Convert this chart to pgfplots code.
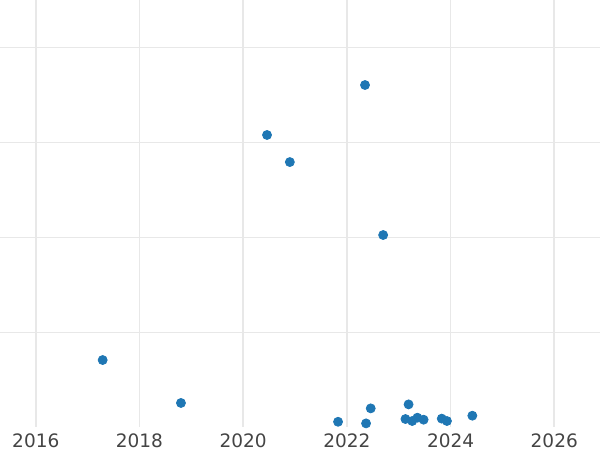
\documentclass[border=0pt]{standalone}
\usepackage{pgfplots}
\pgfplotsset{compat=1.18}
\usepackage{fontspec}
\setmainfont{DejaVu Sans}
\definecolor{pt}{HTML}{1F77B4}
\definecolor{gridc}{HTML}{E8E8E8}
\definecolor{tickc}{HTML}{444444}
\begin{document}
\begin{tikzpicture}
\begin{axis}[
  scale only axis,
  width=300pt, height=213.5pt,
  xmin=2015.310, xmax=2026.882,
  ymin=0, ymax=449.5,
  axis line style={draw=none},
  xtick={2016,2018,2020,2022,2024,2026},
  ytick={100,200,300,400},
  yticklabels={},
  xticklabel style={/pgf/number format/1000 sep=, font=\fontsize{9.25pt}{11pt}\selectfont, text=tickc, anchor=north, inner sep=0pt, yshift=-3.2pt},
  /pgf/number format/assume math mode=true,
  major tick length=0pt,
  xmajorgrids, ymajorgrids,
  x grid style={gridc, line width=0.85pt},
  y grid style={gridc, line width=0.5pt},
  clip=false,
]
\addplot[only marks, mark=*, mark size=2.25pt, color=pt, mark options={draw=pt, fill=pt}] coordinates {
(2017.29,70.5)
(2018.80,25.3)
(2020.46,307.4)
(2020.90,278.9)
(2022.35,360.0)
(2022.70,202.1)
(2021.83,5.5)
(2022.37,3.8)
(2022.46,19.6)
(2023.19,23.8)
(2023.13,8.4)
(2023.26,6.3)
(2023.36,9.8)
(2023.48,7.7)
(2023.83,8.8)
(2023.93,6.3)
(2024.42,11.9)
};
\end{axis}
\pgfresetboundingbox
\path (0,-11.5pt) rectangle (300pt,213.5pt);
\end{tikzpicture}
\end{document}
